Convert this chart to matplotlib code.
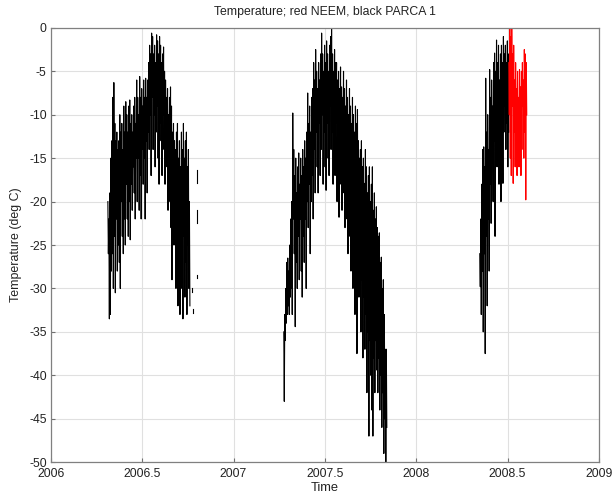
import numpy as np
import matplotlib
matplotlib.use("Agg")
import matplotlib.pyplot as plt

plt.rcParams['font.family'] = ['Liberation Sans', 'DejaVu Sans']
plt.rcParams['axes.unicode_minus'] = False  # plain hyphen like the original

# %% Data (temperature in deg C, alternating highs and lows)
parca_2006_start, parca_2006_end = 2006.312, 2006.761
parca_2006 = [
    -20, -26, -22, -33.5, -19, -33, -15, -28, -13, -26, -8, -30, -6.3, -24, -11, -30.5,
    -13, -22, -12, -28, -14, -25, -13, -27, -10, -30, -12, -20, -11, -24, -14, -26,
    -9, -22, -12, -25, -8.5, -18, -10, -22, -12, -24, -9, -20, -8.3, -24.4, -11, -18,
    -10, -21, -12, -16, -9, -19, -8, -22, -11, -15, -6, -20, -8, -15, -10, -21,
    -5.6, -17, -8, -22, -7, -14, -9, -18, -6, -15, -8, -22, -5.8, -13, -8, -19,
    -6, -12, -4, -14, -2, -10, -3, -17, -0.6, -8, -1, -14, -3, -10, -2, -16,
    -4, -12, -0.8, -9, -1.5, -15, -3, -18, -1, -11, -2, -13, -4, -17, -3, -10,
    -2.2, -14, -5, -18, -6, -12, -8, -16, -7, -21, -10, -14, -8, -20, -6.8, -23,
    -9, -29, -12, -18, -11, -25, -13, -20, -14, -30, -12, -24, -11, -32, -15, -22,
    -13, -33, -16, -27, -12, -30, -14, -33.5, -11, -24, -15, -31, -13, -27, -12, -33,
    -16, -25, -14, -30, -20, -32,
]
# loose fragments after the main 2006 record
parca_2006_tail_t = [2006.775, 2006.775, np.nan, 2006.780, 2006.780, np.nan,
                     2006.800, 2006.800, np.nan, 2006.800, 2006.800, np.nan,
                     2006.800, 2006.800]
parca_2006_tail = [-30.0, -30.4, np.nan, -32.4, -32.8, np.nan,
                   -16.4, -17.9, np.nan, -21.0, -22.5, np.nan, -28.5, -28.8]

parca_2007_start, parca_2007_end = 2007.275, 2007.839
parca_2007 = [
    -35, -43, -33, -36, -30, -34, -27, -33, -26.5, -32, -28, -33, -25, -31, -22, -30,
    -20, -33, -9.8, -22, -14, -26, -17, -34.4, -15, -27, -19, -30, -16, -24, -14.4, -29,
    -18, -22, -15, -28, -17, -31, -14, -24, -16, -27, -13, -22, -15, -30, -12, -20,
    -7.5, -23, -11, -18, -9, -26, -12, -20, -8, -17, -7, -22, -4, -14, -6, -19,
    -2.5, -12, -5, -16, -7, -19, -4, -11, -6, -17, -3, -14, -0.6, -10, -3, -18,
    -5, -12, -2, -16, -4, -18.7, -1.5, -11, -3, -15, -5, -17, -2, -9, -1, -14,
    0, -12, -3, -18, -5, -13, -2.5, -17, -4, -11, -4, -20, -6, -14, -5, -21.8,
    -7, -15, -4.5, -18, -6.8, -21, -8, -14, -5, -19, -7, -23, -9, -16, -6, -22,
    -8, -26, -10, -18, -7, -24, -9, -28, -11, -20, -8, -30, -10, -24, -12, -33,
    -9, -26, -11, -37.5, -9.4, -28, -13, -31, -15, -27, -14, -35, -13, -29, -16, -38,
    -15, -31, -17.9, -37, -14, -33, -16, -42, -19, -35, -17, -47, -16, -36, -20, -40,
    -18, -44, -16, -47, -21, -38, -19, -42, -22, -36, -20.6, -39.4, -23, -42, -24, -38,
    -23.6, -44, -27, -40, -26.4, -46, -30, -42, -29, -49, -33, -45, -37, -50, -37, -46,
]

parca_2008_start, parca_2008_end = 2008.348, 2008.507
parca_2008 = [
    -26, -29.8, -22, -33, -18, -28, -14, -35, -13.7, -26, -16, -37.5, -5.8, -24, -12, -32,
    -10, -22, -14, -28, -4.8, -18, -8, -22.5, -6, -15, -9, -20, -4, -13, -2.9, -24,
    -5, -12, -1.4, -16, -4, -11, -2, -18, -6, -13, -3, -20, -2, -10, -4, -17.9,
    -1, -12, -3, -9, -2, -14, -4, -11, -1.5, -16, -3, -12,
]

neem_2008_start, neem_2008_end = 2008.507, 2008.605
neem_2008 = [
    -4, -10, 0, -15, -1, -17, 0, -9, -3, -17.9, -2, -12, -6, -16, -4, -10,
    -7, -17, -5, -13, -8, -16, -4.8, -11, -6.8, -17, -5, -14, -4, -9, -6, -15,
    -2.5, -12, -3, -19.8, -4, -10,
]

xticks = [2006, 2006.5, 2007, 2007.5, 2008, 2008.5, 2009]
xticklabels = ["2006", "2006.5", "2007", "2007.5", "2008", "2008.5", "2009"]
yticks = list(range(-50, 1, 5))

# %% Plot
fig = plt.figure(figsize=(6.13, 4.98), dpi=100)
ax = fig.add_axes([0.083, 0.072, 0.894, 0.872])

for start, end, vals in [(parca_2006_start, parca_2006_end, parca_2006),
                         (parca_2007_start, parca_2007_end, parca_2007),
                         (parca_2008_start, parca_2008_end, parca_2008)]:
    t = np.linspace(start, end, len(vals))
    ax.plot(t, vals, color='black', lw=0.8)
ax.plot(parca_2006_tail_t, parca_2006_tail, color='black', lw=0.8)

t_neem = np.linspace(neem_2008_start, neem_2008_end, len(neem_2008))
ax.plot(t_neem, neem_2008, color='red', lw=0.8)

ax.set_xlim(2006, 2009)
ax.set_ylim(-50, 0)
ax.set_xticks(xticks)
ax.set_xticklabels(xticklabels)
ax.set_yticks(yticks)
ax.grid(True, color='#e0e0e0', lw=0.8)
ax.set_axisbelow(True)
ax.tick_params(direction='in', length=3, colors='#707070', labelcolor='#222222', labelsize=8.8)
ax.tick_params(axis='x', pad=4)
ax.tick_params(axis='y', pad=3)
for s in ax.spines.values():
    s.set_color('#808080')
    s.set_linewidth(0.9)

ax.set_title("Temperature; red NEEM, black PARCA 1", fontsize=8.8, color='#222222', pad=9)
ax.set_xlabel("Time", fontsize=9.3, color='#222222', labelpad=2)
ax.set_ylabel("Temperature (deg C)", fontsize=8.9, color='#222222', labelpad=5)

plt.savefig("out.png", dpi=100)
